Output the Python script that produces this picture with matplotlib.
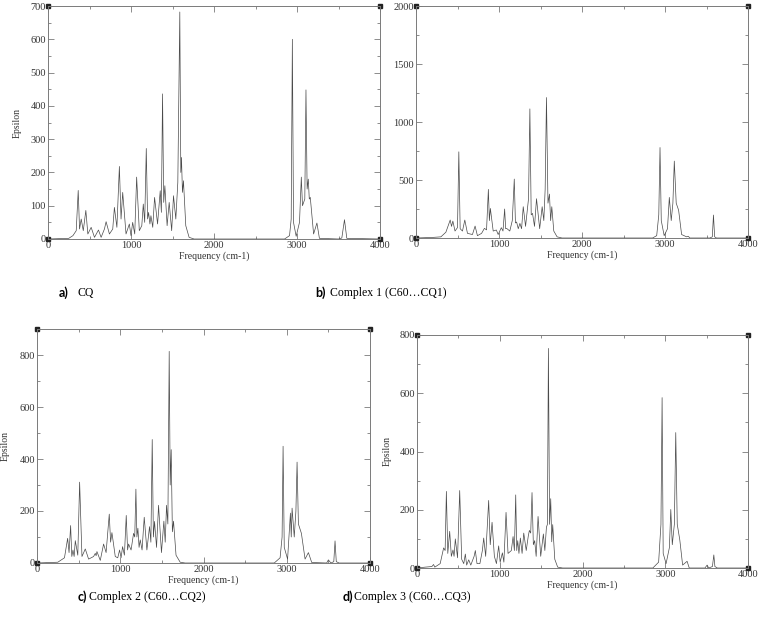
import matplotlib
matplotlib.use('Agg')
import matplotlib.pyplot as plt
import numpy as np
from matplotlib.ticker import MultipleLocator

plt.rcParams['font.family'] = 'Liberation Serif'

# traced spectra: (frequency cm-1, epsilon) vertices
spec_a = [(0, 0), (250, 2), (300, 10), (340, 25), (364, 146), (380, 30), (400, 60), (425, 25),
          (456, 86), (480, 15), (520, 35), (560, 5), (608, 27), (640, 5), (680, 30), (700, 52),
          (740, 15), (780, 30), (800, 95), (830, 35), (860, 218), (880, 60), (900, 140), (940, 15),
          (980, 45), (1000, 10), (1020, 50), (1045, 15), (1068, 186), (1100, 25), (1130, 40),
          (1148, 105), (1165, 50), (1184, 272), (1200, 60), (1212, 80), (1228, 45), (1240, 70),
          (1262, 35), (1284, 125), (1320, 45), (1352, 145), (1366, 80), (1380, 436), (1394, 110),
          (1408, 160), (1435, 40), (1460, 110), (1490, 25), (1512, 130), (1540, 60), (1564, 170),
          (1588, 682), (1600, 200), (1608, 245), (1620, 140), (1632, 175), (1660, 40), (1700, 5),
          (1760, 0), (2850, 0), (2910, 10), (2930, 60), (2944, 600), (2958, 50), (2990, 8),
          (3030, 50), (3052, 186), (3066, 100), (3080, 110), (3094, 120), (3108, 448), (3122, 150),
          (3136, 180), (3148, 120), (3160, 125), (3200, 15), (3240, 48), (3270, 2), (3500, 0),
          (3540, 3), (3572, 58), (3600, 2), (4000, 0)]

spec_b = [(0, 0), (200, 5), (300, 10), (360, 50), (412, 155), (428, 100), (444, 146), (470, 60),
          (500, 90), (516, 743), (532, 80), (560, 60), (588, 155), (620, 40), (680, 30), (712, 103),
          (740, 20), (790, 40), (824, 83), (850, 70), (872, 419), (884, 150), (896, 255), (930, 60),
          (968, 69), (990, 30), (1028, 89), (1048, 60), (1068, 250), (1080, 80), (1092, 83),
          (1130, 60), (1160, 150), (1184, 508), (1198, 130), (1212, 138), (1232, 80), (1252, 126),
          (1272, 80), (1292, 270), (1320, 100), (1356, 341), (1372, 1113), (1388, 200), (1404, 212),
          (1428, 100), (1452, 339), (1490, 80), (1520, 270), (1540, 150), (1556, 419), (1572, 1211),
          (1590, 300), (1608, 379), (1622, 150), (1636, 270), (1660, 60), (1700, 10), (1760, 0),
          (2850, 0), (2900, 20), (2925, 200), (2940, 780), (2955, 150), (2990, 20), (3030, 80),
          (3052, 350), (3075, 150), (3095, 300), (3112, 663), (3135, 300), (3164, 240), (3200, 30),
          (3260, 10), (3280, 15), (3300, 0), (3540, 0), (3570, 10), (3584, 198), (3598, 10),
          (3620, 0), (4000, 0)]

spec_c = [(0, 0), (250, 3), (330, 20), (368, 95), (385, 40), (404, 144), (418, 25), (432, 50),
          (446, 25), (460, 86), (490, 30), (512, 311), (540, 25), (580, 54), (620, 15), (680, 25),
          (700, 37), (710, 28), (720, 44), (760, 10), (800, 73), (830, 40), (868, 188), (884, 80),
          (900, 117), (940, 25), (970, 20), (992, 50), (1010, 20), (1028, 63), (1050, 30),
          (1072, 183), (1088, 50), (1100, 73), (1130, 50), (1160, 114), (1174, 100), (1188, 284),
          (1200, 100), (1212, 134), (1226, 60), (1240, 89), (1262, 50), (1288, 176), (1320, 50),
          (1352, 140), (1368, 80), (1384, 475), (1398, 100), (1412, 160), (1436, 60), (1460, 222),
          (1495, 40), (1524, 161), (1540, 80), (1556, 222), (1572, 150), (1588, 814), (1600, 300),
          (1612, 436), (1626, 120), (1640, 161), (1670, 30), (1720, 3), (1780, 0), (2850, 0),
          (2920, 20), (2944, 100), (2956, 449), (2970, 60), (3010, 15), (3044, 192), (3054, 100),
          (3064, 211), (3090, 100), (3110, 200), (3124, 388), (3140, 150), (3176, 114), (3220, 15),
          (3260, 40), (3300, 2), (3480, 0), (3500, 12), (3530, 0), (3565, 5), (3580, 85),
          (3595, 5), (3630, 0), (4000, 0)]

spec_d = [(0, 0), (100, 3), (180, 5), (200, 12), (215, 3), (280, 15), (322, 69), (340, 60),
          (355, 263), (372, 50), (395, 126), (415, 40), (435, 62), (448, 40), (463, 100), (490, 35),
          (516, 266), (540, 30), (565, 15), (584, 48), (600, 10), (625, 28), (650, 10), (690, 40),
          (705, 60), (725, 15), (760, 15), (790, 60), (806, 103), (830, 40), (866, 232), (885, 80),
          (907, 157), (935, 40), (960, 15), (987, 76), (1005, 20), (1032, 52), (1050, 20),
          (1076, 191), (1100, 50), (1140, 60), (1161, 108), (1177, 60), (1193, 251), (1205, 60),
          (1217, 94), (1232, 50), (1249, 103), (1270, 50), (1290, 120), (1320, 60), (1345, 110),
          (1358, 129), (1374, 120), (1390, 259), (1406, 80), (1422, 94), (1440, 40), (1463, 177),
          (1495, 40), (1527, 117), (1545, 60), (1564, 140), (1576, 150), (1588, 754), (1602, 150),
          (1616, 238), (1628, 90), (1640, 149), (1665, 30), (1700, 3), (1760, 0), (2850, 0),
          (2920, 20), (2948, 150), (2962, 585), (2975, 50), (3010, 15), (3050, 70), (3067, 201),
          (3085, 80), (3110, 150), (3127, 465), (3145, 150), (3176, 96), (3210, 10), (3264, 23),
          (3290, 0), (3480, 0), (3506, 10), (3525, 0), (3570, 5), (3587, 45), (3600, 5),
          (3630, 0), (4000, 0)]

W, H = 763, 633
fig = plt.figure(figsize=(W / 100, H / 100), dpi=100)

# panel boxes in pixels: left, right, top, bottom
panels = [
    (spec_a, (48, 380, 6, 239), 700, 100, 50, True, 22),
    (spec_b, (416, 748, 6, 238), 2000, 500, 250, False, None),
    (spec_c, (37, 370, 329, 563), 900, 200, 100, True, 10),
    (spec_d, (417, 748, 335, 568), 800, 200, 100, True, 392),
]

frame_col = '#7a7a7a'
for spec, (l, r, t, b), ymax, ymaj, ymin, ylab, ylab_x in panels:
    ax = fig.add_axes([l / W, 1 - b / H, (r - l) / W, (b - t) / H])
    arr = np.array(spec, dtype=float)
    ax.plot(arr[:, 0], arr[:, 1], color='#4a4a4a', lw=0.5)
    ax.set_xlim(0, 4000)
    ax.set_ylim(0, ymax)
    ax.xaxis.set_major_locator(MultipleLocator(1000))
    ax.xaxis.set_minor_locator(MultipleLocator(500))
    ax.yaxis.set_major_locator(MultipleLocator(ymaj))
    ax.yaxis.set_minor_locator(MultipleLocator(ymin))
    ax.tick_params(which='both', direction='in', top=True, right=True,
                   color=frame_col, width=0.6, labelsize=7.5, pad=1.5, labelcolor='#333333')
    ax.tick_params(which='major', length=4)
    ax.tick_params(which='minor', length=2)
    for sp in ax.spines.values():
        sp.set_color(frame_col)
        sp.set_linewidth(0.7)
    ax.set_xlabel('Frequency (cm-1)', fontsize=7, labelpad=1, color='#333333')
    if ylab:
        ax.set_ylabel('Epsilon', fontsize=7, color='#333333')
        ax.yaxis.set_label_coords((ylab_x - l) / (r - l), 0.5)
    # corner handles
    ax.plot([0, 0, 1, 1], [0, 1, 0, 1], 's', ms=3, color='#222222',
            transform=ax.transAxes, clip_on=False)

captions = [
    ('a)', 'CQ', 59, 78, 293),
    ('b)', 'Complex 1 (C60\u2026CQ1)', 315, 330, 293),
    ('c)', 'Complex 2 (C60\u2026CQ2)', 78, 89, 597),
    ('d)', 'Complex 3 (C60\u2026CQ3)', 343, 354, 597),
]
for tag, txt, x1, x2, y in captions:
    fig.text(x1 / W, 1 - y / H, tag, family='Lato', weight='bold', fontsize=9, va='center')
    fig.text(x2 / W, 1 - y / H, txt, family='Liberation Serif', fontsize=8.5, va='center')

fig.savefig('out.png', dpi=100)
